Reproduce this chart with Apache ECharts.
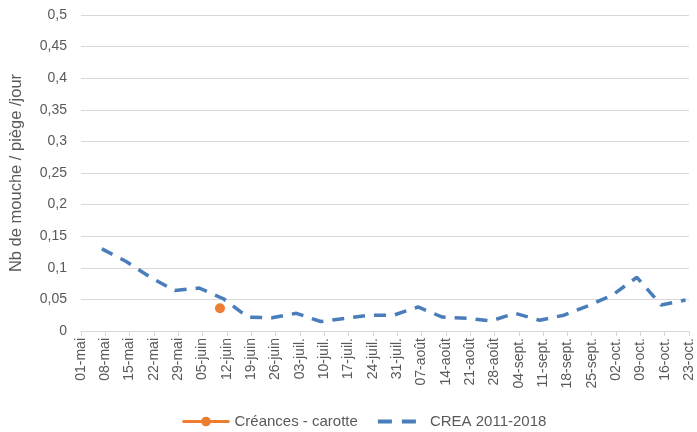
<!DOCTYPE html>
<html>
<head>
<meta charset="utf-8">
<script src="https://cdn.jsdelivr.net/npm/echarts@6/dist/echarts.min.js"></script>
<style>
  html, body { margin: 0; padding: 0; background: #fff; }
  #chart { width: 697px; height: 432px; }
</style>
</head>
<body>
<div id="chart"></div>
<script>
// x = days since 01-mai, one tick per week
var tickLabels = ['01-mai','08-mai','15-mai','22-mai','29-mai','05-juin','12-juin','19-juin','26-juin',
  '03-juil.','10-juil.','17-juil.','24-juil.','31-juil.','07-août','14-août','21-août','28-août',
  '04-sept.','11-sept.','18-sept.','25-sept.','02-oct.','09-oct.','16-oct.','23-oct.'];

var creaDays = [6,13,20,27,34,41,48,55,62,69,76,83,90,97,104,111,118,125,132,139,146,153,160,167,174];
var creaValues = [0.13,0.11,0.085,0.064,0.068,0.051,0.022,0.021,0.028,0.015,0.02,0.025,0.025,
  0.038,0.022,0.02,0.016,0.028,0.017,0.025,0.04,0.057,0.085,0.041,0.049];

var carotteDays = [40];
var carotteValues = [0.036];

var yTickLabels = ['0','0,05','0,1','0,15','0,2','0,25','0,3','0,35','0,4','0,45','0,5'];

function pairs(xs, ys) {
  return xs.map(function (x, i) { return [x, ys[i]]; });
}

var myChart = echarts.init(document.getElementById('chart'));
var font = 'Liberation Sans';
var option = {
  animation: false,
  textStyle: { fontFamily: font },
  grid: { left: 80, right: 8, top: 15, bottom: 101 },
  legend: {
    bottom: -2,
    left: 176,
    itemWidth: 47,
    itemHeight: 12,
    itemGap: 20,
    textStyle: { color: '#595959', fontSize: 15, fontFamily: font },
    data: [
      { name: 'Créances - carotte', lineStyle: { width: 3 } },
      { name: 'CREA 2011-2018', icon: 'path://M0,0L0.01,0L0.01,0.01Z M0,4H14V8H0Z M24,4H38V8H24Z M46.99,11.99L47,11.99L47,12Z' }
    ]
  },
  xAxis: {
    type: 'value',
    min: 0,
    max: 175,
    interval: 7,
    axisLine: { show: true, lineStyle: { color: '#d9d9d9' } },
    axisTick: { show: true, length: 5, lineStyle: { color: '#d9d9d9' } },
    splitLine: { show: false },
    axisLabel: {
      rotate: 90,
      color: '#595959',
      fontSize: 14,
      margin: 7,
      formatter: function (v) { return tickLabels[Math.round(v / 7)]; }
    }
  },
  yAxis: {
    type: 'value',
    min: 0,
    max: 0.5,
    interval: 0.05,
    name: 'Nb de mouche / piège /jour',
    nameLocation: 'middle',
    nameGap: 56,
    nameTextStyle: { color: '#595959', fontSize: 16.5, fontFamily: font },
    axisLine: { show: false },
    axisTick: { show: false },
    splitLine: { lineStyle: { color: '#d9d9d9' } },
    axisLabel: {
      color: '#595959',
      fontSize: 14,
      margin: 14,
      formatter: function (v) { return yTickLabels[Math.round(v / 0.05)]; }
    }
  },
  series: [
    {
      name: 'Créances - carotte',
      type: 'line',
      data: pairs(carotteDays, carotteValues),
      symbol: 'circle',
      symbolSize: 10,
      itemStyle: { color: '#ED7D31' },
      lineStyle: { color: '#ED7D31', width: 3 }
    },
    {
      name: 'CREA 2011-2018',
      type: 'line',
      data: pairs(creaDays, creaValues),
      showSymbol: false,
      symbol: 'none',
      itemStyle: { color: '#4A7EBB' },
      lineStyle: { color: '#4A7EBB', width: 3.5, type: [12, 9] }
    }
  ]
};
myChart.setOption(option);
</script>
</body>
</html>
